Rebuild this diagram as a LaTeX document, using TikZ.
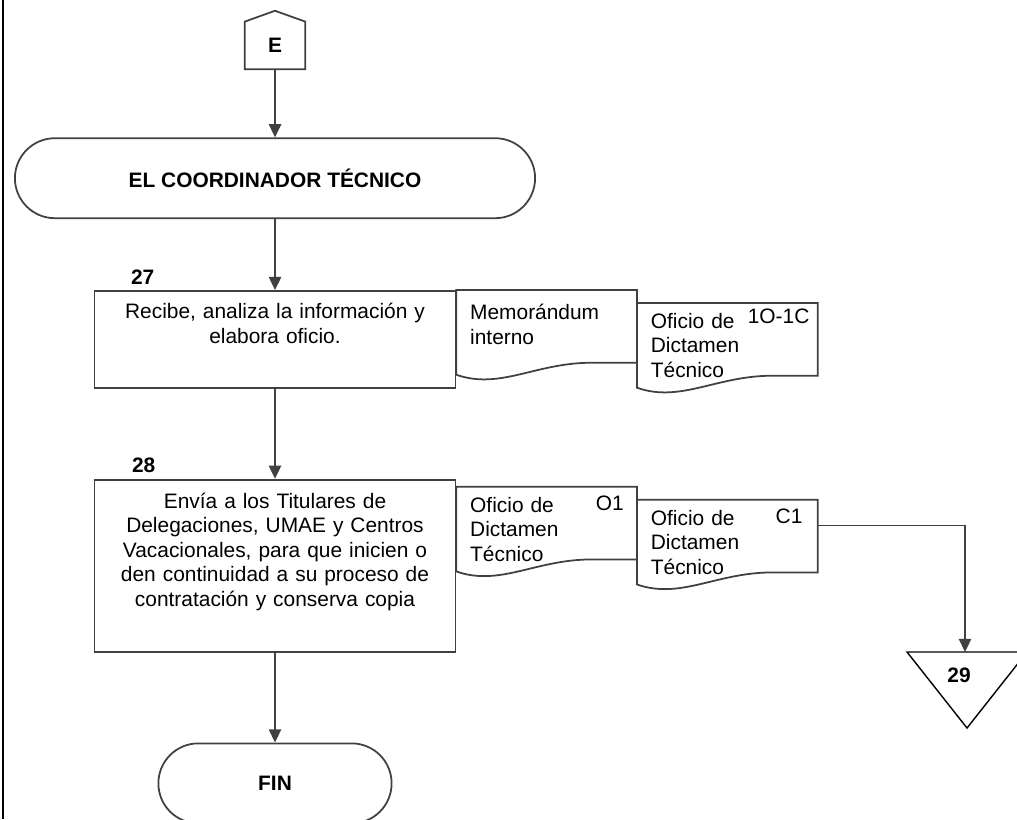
\documentclass[tikz,border=0pt]{standalone}
\usepackage{fontspec}
\setmainfont{Liberation Sans}
\usepackage{tikz}
\usetikzlibrary{shapes.misc, arrows.meta, positioning, calc}
\definecolor{linegray}{RGB}{64,64,64}
\newcommand{\diagfont}{\fontsize{11.9pt}{14pt}\selectfont}
% document outline with wavy bottom
\newcommand{\docshape}[1]{%
  \draw[outline] (#1.north west) -- (#1.north east) -- ([yshift=6.8pt]#1.south east)
    -- ($(#1.south west)!0.78!(#1.south east)+(0pt,6.8pt)$)
    .. controls ($(#1.south west)!0.45!(#1.south east)+(0pt,7.9pt)$)
    and ($(#1.south west)!0.25!(#1.south east)+(0pt,-9pt)$) .. (#1.south west) -- cycle;}

\begin{document}
\begin{tikzpicture}[
    x=0.02cm, y=-0.02cm,
    connbox/.style={minimum width=1.2cm, minimum height=0.94cm, inner sep=0pt, font=\diagfont\bfseries},
    terminal/.style={rounded rectangle, draw=linegray, line width=1pt, minimum height=1.6cm, font=\diagfont\bfseries},
    procbox/.style={rectangle, draw=linegray, line width=1pt, minimum width=7.22cm, text width=6.8cm, align=center, inner sep=0pt, font=\diagfont},
    docbox/.style={minimum width=3.6cm, minimum height=1.68cm, text width=3.06cm, inner xsep=0.27cm, inner ysep=0pt, align=left, font=\diagfont},
    doccode/.style={anchor=north east, inner sep=0pt, font=\diagfont},
    stepnum/.style={inner sep=0pt, font=\diagfont\bfseries},
    outline/.style={draw=linegray, line width=1pt},
    arrow/.style={-{Triangle[length=7.5pt, width=7pt]}, draw=linegray, line width=1pt}
]
    \useasboundingbox (0,0) rectangle (1017,819);
    \draw[line width=1pt] (3,0) -- (3,819);

    % Main column
    \node[connbox] (E) at (275,45.5) {E};
    \draw[outline] (E.south west) -- (E.north west) -- ([yshift=6.2pt]E.north) -- (E.north east) -- (E.south east) -- cycle;
    \node[terminal, minimum width=10.64cm, below=1.36cm of E] (coord) {EL COORDINADOR TÉCNICO};
    \node[procbox, minimum height=1.94cm, below=1.42cm of coord] (box27) {Recibe, analiza la información y\\ elabora oficio.\\ \strut};
    \node[procbox, minimum height=3.44cm, below=1.8cm of box27] (box28) {Envía a los Titulares de\\ Delegaciones, UMAE y Centros\\ Vacacionales, para que inicien o\\ den continuidad a su proceso de\\ contratación y conserva copia\\ \strut};
    \node[terminal, minimum width=4.9cm, below=1.8cm of box28] (fin) {FIN};
    \node[stepnum, above right=0.11cm and 0.74cm of box27.north west] (n27) {27};
    \node[stepnum, above right=0.11cm and 0.76cm of box28.north west] (n28) {28};

    % Documents
    \node[docbox, below right=0cm and 0cm of box27.north east] (memo) {Memorándum\\ interno\\[-9pt] \strut};
    \node[docbox, below right=0.26cm and 0cm of memo.north east] (dict27) {Oficio de\\ Dictamen\\ Técnico};
    \node[doccode, xshift=-4.5pt, yshift=-3.1pt] (code27) at (dict27.north east) {1O-1C};
    \node[docbox, below right=0.16cm and 0cm of box28.north east] (ofi28) {Oficio de\\ Dictamen\\ Técnico};
    \node[doccode, xshift=-7.4pt, yshift=-4.8pt] (codeO1) at (ofi28.north east) {O1};
    \node[docbox, below right=0.26cm and 0cm of ofi28.north east] (copia28) {Oficio de\\ Dictamen\\ Técnico};
    \node[doccode, xshift=-8.5pt, yshift=-4.8pt] (codeC1) at (copia28.north east) {C1};
    \docshape{memo}
    \docshape{dict27}
    \docshape{ofi28}
    \docshape{copia28}

    % Off-page connector
    \begin{scope}
        \clip (0,0) rectangle (1017,819);
        \draw[line width=0.8pt] (907,652) -- (1027,652) -- (967,728) -- cycle;
    \end{scope}
    \coordinate (t29) at (965,652);
    \node[stepnum] (n29) at (959,675) {29};

    % Flow
    \draw[arrow] (E) -- (coord);
    \draw[arrow] (coord) -- (box27);
    \draw[arrow] (box27) -- (box28);
    \draw[arrow] (box28) -- (fin);
    \draw[arrow] ([yshift=-14.7pt]copia28.north east) -| (t29);
\end{tikzpicture}
\end{document}
